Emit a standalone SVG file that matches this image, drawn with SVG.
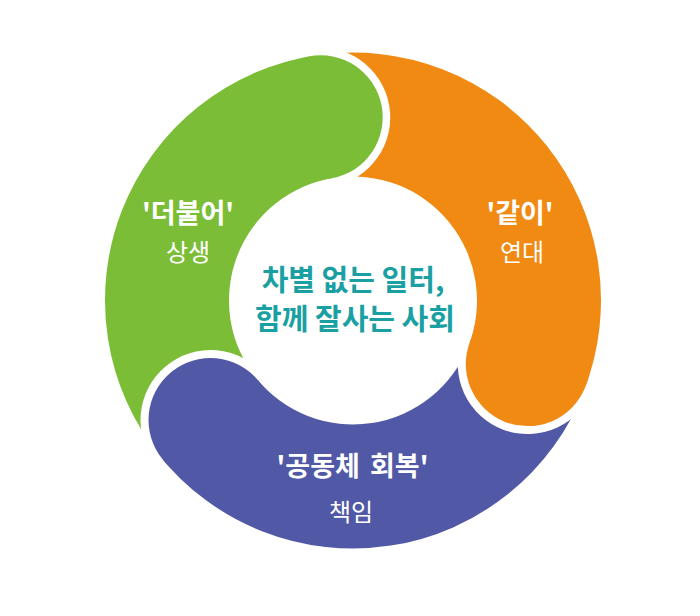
<svg xmlns="http://www.w3.org/2000/svg" width="700" height="616" viewBox="0 0 700 616">
  <style>
    .halo { fill: #ffffff; }
    .green { fill: #7bbd36; }
    .orange { fill: #f08a13; }
    .purple { fill: #5159a6; }
    .lbl { font-family: "Noto Sans CJK KR", "Noto Sans", sans-serif; fill: #ffffff; text-anchor: middle; }
    .title { font-size: 27px; font-weight: 700; }
    .sub { font-size: 24px; font-weight: 400; }
    .center { font-family: "Noto Sans CJK KR", "Noto Sans", sans-serif; fill: #1aa0a2; font-size: 29px; font-weight: 700; text-anchor: middle; }
  </style>
  <rect width="700" height="616" fill="#ffffff"/>
  <g id="segments">
    <path id="orange-body" class="orange" d="M 314.20 55.55 A 248 248 0 0 1 583.74 391.39 L 468.37 345.95 A 124 124 0 0 0 333.60 178.03 Z"/>
    <path id="purple-body" class="purple" d="M 584.53 389.38 A 248 248 0 0 1 158.91 454.88 L 255.96 377.69 A 124 124 0 0 0 468.76 344.94 Z"/>
    <path id="green-body" class="green" d="M 160.27 456.57 A 248 248 0 0 1 316.34 55.22 L 334.67 177.86 A 124 124 0 0 0 256.63 378.54 Z"/>
    <path class="halo" d="M 593.56 388.06 A 70 70 0 0 1 462.00 340.17 Z"/>
    <circle id="orange-cap" class="orange" cx="527.78" cy="364.12" r="62"/>
    <path class="halo" d="M 156.89 465.05 A 70 70 0 0 1 264.14 375.06 Z"/>
    <circle id="purple-cap" class="purple" cx="210.52" cy="420.06" r="62"/>
    <path class="halo" d="M 308.55 48.39 A 70 70 0 0 1 332.86 186.26 Z"/>
    <circle id="green-cap" class="green" cx="320.70" cy="117.33" r="62"/>
  </g>
  <g id="node-green">
    <text class="lbl title" x="188" y="223">'더불어'</text>
    <text class="lbl sub" x="188" y="261">상생</text>
  </g>
  <g id="node-orange">
    <text class="lbl title" x="520" y="223">'같이'</text>
    <text class="lbl sub" x="522" y="261">연대</text>
  </g>
  <g id="node-purple">
    <text class="lbl title" x="352.5" y="476" word-spacing="4">'공동체 회복'</text>
    <text class="lbl sub" x="351" y="521">책임</text>
  </g>
  <g id="node-center">
    <text class="center" x="353" y="291">차별 없는 일터,</text>
    <text class="center" x="355" y="330">함께 잘사는 사회</text>
  </g>
</svg>
